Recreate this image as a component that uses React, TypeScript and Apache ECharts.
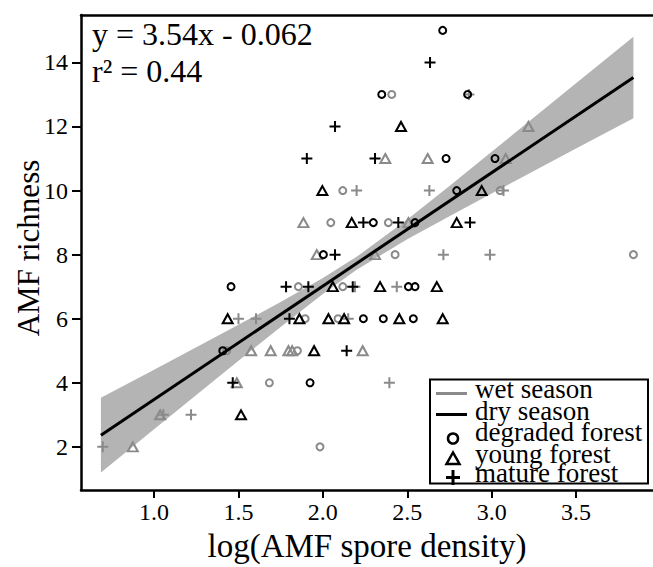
import React, { useEffect, useRef } from "react";
import * as echarts from "echarts";

// ---- Data ----
const xTickValues = [1.0, 1.5, 2.0, 2.5, 3.0, 3.5];
const yTickValues = [2, 4, 6, 8, 10, 12, 14];

// wet season (gray)
const wetDegraded = [
  [2.118, 10], [3.05, 10], [2.408, 13], [2.047, 9], [2.388, 9], [2.428, 8], [3.84, 8],
  [1.855, 7], [2.118, 7], [1.895, 6], [2.09, 6], [1.43, 5], [1.849, 5], [1.683, 4], [1.983, 2],
];
const wetYoung = [
  [3.218, 12], [2.37, 11], [2.621, 11], [3.083, 11], [1.885, 9], [2.507, 9], [1.964, 8],
  [2.309, 8], [1.575, 5], [1.691, 5], [1.796, 5], [1.818, 5], [2.236, 5], [1.49, 4],
  [1.036, 3], [0.874, 2],
];
const wetMature = [
  [2.865, 13], [2.2, 10], [2.631, 10], [3.07, 10], [2.714, 8], [2.99, 8], [2.19, 7],
  [2.438, 7], [1.5, 6], [1.604, 6], [2.15, 6], [2.394, 4], [1.055, 3], [1.219, 3], [0.696, 2],
];
// dry season (black)
const dryDegraded = [
  [2.71, 15], [2.349, 13], [2.858, 13], [2.73, 11], [3.02, 11], [2.793, 10], [2.299, 9],
  [2.546, 9], [2.003, 8], [1.456, 7], [2.507, 7], [2.546, 7], [2.24, 6], [2.358, 6],
  [2.536, 6], [1.407, 5], [1.924, 4],
];
const dryYoung = [
  [2.463, 12], [1.997, 10], [2.941, 10], [2.171, 9], [2.793, 9], [2.059, 7], [2.339, 7],
  [2.675, 7], [1.436, 6], [1.861, 6], [2.033, 6], [2.126, 6], [2.453, 6], [2.71, 6],
  [1.948, 5], [1.515, 3],
];
const dryMature = [
  [2.635, 14], [2.072, 12], [1.905, 11], [2.309, 11], [2.24, 9], [2.447, 9], [2.872, 9],
  [2.072, 8], [1.782, 7], [1.914, 7], [2.177, 7], [1.802, 6], [2.141, 5], [1.466, 4],
];

// regression line y = 3.54x - 0.062 (end points)
const fitLine = [
  [0.685, 2.363],
  [3.84, 13.532],
];
// confidence band
const bandX = [0.685, 1.0, 1.25, 1.5, 1.75, 2.0, 2.2, 2.5, 2.75, 3.0, 3.25, 3.5, 3.84];
const bandUpper = [3.53, 4.41, 5.11, 5.81, 6.52, 7.27, 7.93, 9.1, 10.14, 11.21, 12.28, 13.35, 14.8];
const bandLower = [1.2, 2.55, 3.62, 4.69, 5.74, 6.77, 7.53, 8.48, 9.2, 9.91, 10.61, 11.31, 12.26];

const equationText = "y = 3.54x - 0.062";
const r2Text = "r² = 0.44";
const legendLabels = ["wet season", "dry season", "degraded forest", "young forest", "mature forest"];

const GRAY = "#8a8a8a";
const BLACK = "#000000";
const BAND = "#b4b4b4";
const FONT = "Liberation Serif";
const CROSS = "path://M0,5L10,5M5,0L5,10";

function scatter(name: string, data: number[][], color: string, symbol: string, size: any) {
  return {
    name,
    type: "scatter",
    data,
    symbol,
    symbolSize: size,
    silent: true,
    z: color === BLACK ? 6 : 5,
    itemStyle: { color: "rgba(0,0,0,0)", borderColor: color, borderWidth: 2, opacity: 1 },
  };
}

function txt(text: string, x: number, y: number, size: number, extra: any = {}) {
  return {
    type: "text",
    x,
    y,
    z: 32,
    ...extra,
    style: {
      text,
      fontFamily: FONT,
      fontSize: size,
      fill: BLACK,
      align: "left",
      verticalAlign: "middle",
      ...(extra.style || {}),
    },
  };
}

export default function App() {
  const ref = useRef<HTMLDivElement>(null);
  useEffect(() => {
    const chart = echarts.init(ref.current!, null, { renderer: "svg" });
    const legendX = 453;
    // text centres (baseline - ~0.34em)
    const rows = [389, 410.5, 432, 453.5, 473];
    const option: any = {
      animation: false,
      textStyle: { fontFamily: FONT },
      grid: { left: 81, right: 0, top: 15, bottom: 69 },
      xAxis: [
        {
          type: "value",
          min: 0.567,
          max: 3.956,
          splitLine: { show: false },
          axisLine: { show: true, onZero: false, lineStyle: { color: BLACK, width: 2.5 } },
          axisTick: { show: true, customValues: xTickValues, length: 8, lineStyle: { color: BLACK, width: 2 } },
          axisLabel: {
            customValues: xTickValues,
            formatter: (v: number) => v.toFixed(1),
            fontFamily: FONT,
            fontSize: 24,
            color: BLACK,
            margin: 10,
          },
          name: "log(AMF spore density)",
          nameLocation: "middle",
          nameGap: 24,
          nameTextStyle: { fontFamily: FONT, fontSize: 33, color: BLACK },
        },
        {
          type: "value",
          position: "top",
          min: 0.567,
          max: 3.956,
          splitLine: { show: false },
          axisLine: { show: true, onZero: false, lineStyle: { color: BLACK, width: 2.5 } },
          axisTick: { show: false },
          axisLabel: { show: false },
        },
      ],
      yAxis: {
        type: "value",
        min: 0.65,
        max: 15.48,
        splitLine: { show: false },
        axisLine: { show: true, onZero: false, lineStyle: { color: BLACK, width: 2.5 } },
        axisTick: { show: true, customValues: yTickValues, length: 9, lineStyle: { color: BLACK, width: 2 } },
        axisLabel: {
          customValues: yTickValues,
          fontFamily: FONT,
          fontSize: 24,
          color: BLACK,
          margin: 13,
        },
      },
      series: [
        {
          type: "custom",
          silent: true,
          z: 1,
          data: bandX.map((x, i) => [x, bandLower[i], bandUpper[i]]),
          encode: { x: 0, y: [1, 2] },
          renderItem: (params: any, api: any) => {
            if (params.dataIndex !== 0) return null;
            const up = bandX.map((x, i) => api.coord([x, bandUpper[i]]));
            const lo = bandX.map((x, i) => api.coord([x, bandLower[i]])).reverse();
            return {
              type: "polygon",
              shape: { points: up.concat(lo) },
              style: { fill: BAND, stroke: "none" },
            };
          },
        },
        scatter("wet degraded", wetDegraded, GRAY, "circle", 7),
        scatter("wet young", wetYoung, GRAY, "triangle", [10, 9]),
        scatter("wet mature", wetMature, GRAY, CROSS, 11),
        scatter("dry degraded", dryDegraded, BLACK, "circle", 7),
        scatter("dry young", dryYoung, BLACK, "triangle", [10, 9]),
        scatter("dry mature", dryMature, BLACK, CROSS, 11),
        {
          type: "line",
          data: fitLine,
          symbol: "none",
          silent: true,
          z: 7,
          lineStyle: { color: BLACK, width: 3 },
        },
      ],
      graphic: [
        txt(equationText, 92, 34, 32),
        txt(r2Text, 92, 71, 32),
        txt("AMF richness", 28, 248, 31, {
          rotation: Math.PI / 2,
          style: { align: "center", verticalAlign: "middle" },
        }),
        // legend box
        {
          type: "rect",
          shape: { x: 430, y: 379.5, width: 218, height: 104 },
          style: { fill: "#fff", stroke: BLACK, lineWidth: 2 },
          z: 30,
        },
        {
          type: "line",
          shape: { x1: 436, y1: 393.5, x2: 467, y2: 393.5 },
          style: { stroke: GRAY, lineWidth: 3 },
          z: 31,
        },
        {
          type: "line",
          shape: { x1: 436, y1: 414.5, x2: 467, y2: 414.5 },
          style: { stroke: BLACK, lineWidth: 3 },
          z: 31,
        },
        {
          type: "circle",
          shape: { cx: legendX, cy: 438.5, r: 5 },
          style: { fill: "none", stroke: BLACK, lineWidth: 2.5 },
          z: 31,
        },
        {
          type: "polygon",
          shape: { points: [[legendX, 452.5], [legendX - 6.5, 464], [legendX + 6.5, 464]] },
          style: { fill: "none", stroke: BLACK, lineWidth: 2.5 },
          z: 31,
        },
        {
          type: "line",
          shape: { x1: legendX - 7, y1: 477.5, x2: legendX + 7, y2: 477.5 },
          style: { stroke: BLACK, lineWidth: 3 },
          z: 31,
        },
        {
          type: "line",
          shape: { x1: legendX, y1: 470, x2: legendX, y2: 485 },
          style: { stroke: BLACK, lineWidth: 3 },
          z: 31,
        },
        ...legendLabels.map((t, i) => txt(t, 475, rows[i], 27, { style: { lineHeight: 20 } })),
      ],
    };
    chart.setOption(option);
    return () => chart.dispose();
  }, []);
  return (
    <div
      ref={ref}
      style={{ position: "absolute", left: 0, top: 0, width: 653, height: 567 }}
    />
  );
}
